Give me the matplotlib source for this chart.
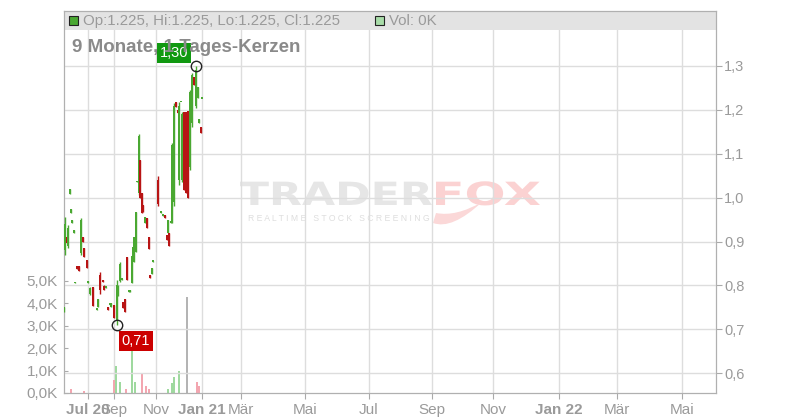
import numpy as np
import matplotlib.pyplot as plt
from matplotlib.patches import Rectangle, PathPatch
from matplotlib.path import Path
from matplotlib.textpath import TextPath
from matplotlib.font_manager import FontProperties
from matplotlib.transforms import Affine2D, IdentityTransform

plt.rcParams['font.family'] = ['Liberation Sans', 'DejaVu Sans']

# daily candles, day = trading day since start of the window
days = [0, 1, 3, 4, 6, 7, 8, 10, 11, 13, 15, 17, 19, 20, 23, 24, 26, 29, 33, 34,
        36, 39, 40, 42, 44, 46, 47, 50, 53, 54, 56, 58, 59, 61, 63, 65, 66, 68, 69, 70,
        72, 73, 75, 76, 78, 79, 81, 83, 85, 86, 88, 89, 94, 97, 99, 101, 103, 104, 105, 107,
        108, 110, 112, 114, 115, 117, 118, 120, 122, 124, 126, 128, 130, 132, 134, 135, 137, 138]
opens = [0.745, 0.880, 0.910, 0.890, 1.008, 0.965, 0.942, 0.920, 0.805, 0.845, 0.845, 0.875, 0.910, 0.886, 0.858, 0.806, 0.780, 0.797, 0.744, 0.750,
         0.825, 0.812, 0.800, 0.794, 0.751, 0.755, 0.752, 0.756, 0.720, 0.775, 0.810, 0.812, 0.762, 0.770, 0.865, 0.785, 0.785, 0.806, 0.858, 0.853,
         0.876, 1.035, 1.010, 1.086, 1.010, 0.983, 0.942, 0.954, 0.910, 0.824, 0.826, 0.853, 1.040, 0.966, 0.959, 0.960, 0.915, 0.920, 0.920, 0.942,
         0.945, 0.990, 1.218, 1.200, 1.040, 1.217, 1.040, 1.195, 1.195, 1.198, 1.070, 1.170, 1.275, 1.210, 1.227, 1.170, 1.160, 1.225]
highs = [0.752, 0.956, 0.910, 0.938, 1.020, 0.974, 0.950, 0.926, 0.807, 0.845, 0.845, 0.954, 0.910, 0.886, 0.858, 0.810, 0.797, 0.797, 0.746, 0.770,
         0.830, 0.812, 0.800, 0.796, 0.751, 0.757, 0.760, 0.756, 0.812, 0.800, 0.853, 0.814, 0.762, 0.770, 0.865, 0.787, 0.790, 0.867, 0.888, 0.910,
         0.967, 1.037, 1.145, 1.086, 1.010, 0.983, 0.956, 0.954, 0.910, 0.824, 0.840, 0.856, 1.050, 0.968, 0.961, 0.960, 0.915, 0.950, 0.920, 0.948,
         1.125, 1.216, 1.218, 1.200, 1.218, 1.219, 1.195, 1.195, 1.195, 1.198, 1.245, 1.284, 1.275, 1.300, 1.252, 1.180, 1.160, 1.225]
lows = [0.740, 0.870, 0.897, 0.885, 1.008, 0.965, 0.942, 0.920, 0.805, 0.838, 0.833, 0.870, 0.900, 0.865, 0.840, 0.806, 0.778, 0.753, 0.744, 0.750,
        0.780, 0.808, 0.790, 0.794, 0.744, 0.755, 0.752, 0.726, 0.710, 0.775, 0.808, 0.812, 0.749, 0.740, 0.812, 0.785, 0.785, 0.806, 0.858, 0.853,
        0.876, 1.035, 1.006, 1.000, 0.965, 0.967, 0.942, 0.930, 0.883, 0.817, 0.826, 0.853, 0.980, 0.966, 0.959, 0.953, 0.904, 0.920, 0.890, 0.942,
        0.942, 0.980, 1.206, 1.192, 1.030, 1.217, 1.035, 1.017, 1.010, 1.000, 1.063, 1.160, 1.257, 1.205, 1.227, 1.170, 1.147, 1.225]
closes = [0.750, 0.940, 0.897, 0.930, 1.020, 0.974, 0.950, 0.926, 0.807, 0.838, 0.833, 0.950, 0.900, 0.865, 0.840, 0.810, 0.795, 0.753, 0.746, 0.770,
          0.790, 0.808, 0.790, 0.796, 0.744, 0.757, 0.760, 0.726, 0.800, 0.800, 0.850, 0.814, 0.749, 0.740, 0.812, 0.787, 0.790, 0.867, 0.888, 0.910,
          0.967, 1.037, 1.140, 1.000, 0.965, 0.967, 0.956, 0.930, 0.883, 0.817, 0.840, 0.856, 0.985, 0.968, 0.961, 0.953, 0.904, 0.950, 0.890, 0.948,
          1.120, 1.210, 1.206, 1.192, 1.210, 1.219, 1.190, 1.017, 1.010, 1.000, 1.240, 1.280, 1.257, 1.290, 1.252, 1.180, 1.147, 1.225]

# volume in thousand shares (0 = flat day)
vol_days = [7, 20, 50, 52, 56, 62, 68, 71, 78, 82, 85, 104, 108, 110, 115, 123, 133, 135]
vol_k = [0.2, 0.1, 0.6, 1.2, 0.5, 0.2, 2.0, 0.5, 0.85, 0.3, 0.2, 0.2, 0.45, 0.7, 1.0, 4.3, 0.5, 0.3]
vol_dir = [-1, -1, -1, 1, 1, -1, 1, 1, -1, -1, -1, 1, 1, 1, 1, 0, -1, -1]

tick_pos = [24, 50, 92, 138, 177, 241, 305, 368, 429, 495, 553, 618]
tick_labels = ['Jul 20', 'Sep', 'Nov', 'Jan 21', 'Mär', 'Mai', 'Jul', 'Sep', 'Nov', 'Jan 22', 'Mär', 'Mai']
price_ticks = [0.6, 0.7, 0.8, 0.9, 1.0, 1.1, 1.2, 1.3]
vol_ticks = [0, 1, 2, 3, 4, 5]

GREEN = '#4aa832'
RED = '#b81414'
GRID = '#dddddd'
TXT = '#9a9a9a'

fig = plt.figure(figsize=(8, 4.2), dpi=100)
fig.patch.set_facecolor('white')
ax = fig.add_axes([63.5 / 800, 1 - 393 / 420, 652.5 / 800, 382 / 420])
ax.patch.set_alpha(0)
axp = ax.twinx()

# watermark behind the grid, stretched wide like the logo
fp = FontProperties(family='DejaVu Sans', weight='bold')
for word, x0, x1, col in [('TRADER', 240, 432, '#e6e6e6'), ('FOX', 436, 540, '#fbd2d2')]:
    tp = TextPath((0, 0), word, size=32, prop=fp)
    ext = tp.get_extents()
    sx = (x1 - x0) / ext.width
    tr = Affine2D().translate(-ext.x0, 0).scale(sx, 1).translate(x0, 420 - 205)
    fig.add_artist(PathPatch(tp, transform=tr + IdentityTransform(), facecolor=col,
                             edgecolor='none', zorder=-1))
tail = Path([(433, 420 - 223), (452, 420 - 230), (482, 420 - 202), (456, 420 - 217), (436, 420 - 213), (433, 420 - 223)],
            [Path.MOVETO, Path.CURVE3, Path.CURVE3, Path.CURVE3, Path.CURVE3, Path.CLOSEPOLY])
fig.add_artist(PathPatch(tail, transform=IdentityTransform(), facecolor='#fbd8d8', edgecolor='none', zorder=-1))
fig.text(339 / 800, 1 - 218 / 420, 'R E A L T I M E   S T O C K   S C R E E N I N G',
         color='#dedede', fontsize=6.2, ha='center', va='center', zorder=-1)

# volume (left axis)
vcol = {1: '#9fd99f', -1: '#f3a6b0', 0: '#b4b4b4'}
ax.bar(vol_days, vol_k, width=1.2, color=[vcol[d] for d in vol_dir], zorder=2)
ax.set_ylim(0, 382 / 22.4)
ax.set_xlim(-0.5, 652)
ax.set_yticks(vol_ticks)
ax.set_yticklabels([f'{v:.1f}K'.replace('.', ',') for v in vol_ticks])
ax.yaxis.tick_left()
ax.tick_params(axis='y', direction='in', length=3, color='#aaaaaa', labelcolor=TXT, labelsize=11, pad=4)
ax.set_xticks(tick_pos)
ax.set_xticklabels(tick_labels)
for lab in ax.get_xticklabels():
    if lab.get_text()[-2:].isdigit():
        lab.set_fontweight('bold')
ax.tick_params(axis='x', direction='out', length=4, color='#aaaaaa', labelcolor=TXT, labelsize=11, pad=3)
ax.grid(axis='x', color=GRID, lw=1, zorder=0)
ax.set_axisbelow(True)
for s in ax.spines.values():
    s.set_color('#b0b0b0')

# price candles (right axis)
o = np.array(opens)
c = np.array(closes)
cols = [GREEN if cc >= oo else RED for oo, cc in zip(o, c)]
axp.vlines(days, lows, highs, colors=cols, lw=1, zorder=3)
axp.bar(days, np.maximum(np.abs(c - o), 0.004), bottom=np.minimum(o, c), width=1.2,
        color=cols, zorder=3)
axp.set_ylim(1.3 - 327 / 439, 1.3 + 55 / 439)
axp.set_yticks(price_ticks)
axp.set_yticklabels([f'{p:.1f}'.replace('.', ',') for p in price_ticks])
axp.tick_params(axis='y', direction='out', length=4, color='#aaaaaa', labelcolor=TXT, labelsize=10.5, pad=2)
axp.grid(axis='y', color=GRID, lw=1, zorder=0)
for s in axp.spines.values():
    s.set_color('#b0b0b0')

# high / low markers
ih = int(np.argmax(highs))
il = int(np.argmin(lows))
axp.plot(days[ih], highs[ih], 'o', ms=7.5, mfc='none', mec='#222222', mew=1, zorder=5)
axp.plot(days[il], lows[il], 'o', ms=7.5, mfc='none', mec='#222222', mew=1, zorder=5)
axp.annotate(f'{highs[ih]:.2f}'.replace('.', ','), (days[ih], highs[ih]), xytext=(-22, 13),
             textcoords='offset pixels', ha='center', va='center', color='white', fontsize=10.5,
             bbox=dict(boxstyle='square,pad=0.2', fc='#119911', ec='none'), zorder=6)
axp.annotate(f'{lows[il]:.2f}'.replace('.', ','), (days[il], lows[il]), xytext=(19, -16),
             textcoords='offset pixels', ha='center', va='center', color='white', fontsize=10.5,
             bbox=dict(boxstyle='square,pad=0.2', fc='#cc0000', ec='none'), zorder=6)

# header band
hdr_frac = 19 / 382
ax.add_patch(Rectangle((0, 1 - hdr_frac), 1, hdr_frac, transform=ax.transAxes,
                       facecolor='#e3e3e3', edgecolor='none', zorder=1))
fig.add_artist(Rectangle((69 / 800, 1 - 25 / 420), 9 / 800, 9 / 420, facecolor='#4aa832',
                         edgecolor='#222222', lw=0.8))
fig.text(83 / 800, 1 - 21 / 420, f'Op:{closes[-1]:.3f}, Hi:{highs[-1]:.3f}, Lo:{lows[-1]:.3f}, Cl:{closes[-1]:.3f}',
         color=TXT, fontsize=10.8, va='center')
fig.add_artist(Rectangle((375 / 800, 1 - 25 / 420), 9 / 800, 9 / 420, facecolor='#a8dca8',
                         edgecolor='#222222', lw=0.8))
fig.text(389 / 800, 1 - 21 / 420, 'Vol: 0K', color=TXT, fontsize=10.8, va='center')

fig.text(72 / 800, 1 - 47 / 420, '9 Monate, 1 Tages-Kerzen', color='#8a8a8a', fontsize=13.5,
         fontweight='bold', va='center')

fig.savefig('out.png', dpi=100)
